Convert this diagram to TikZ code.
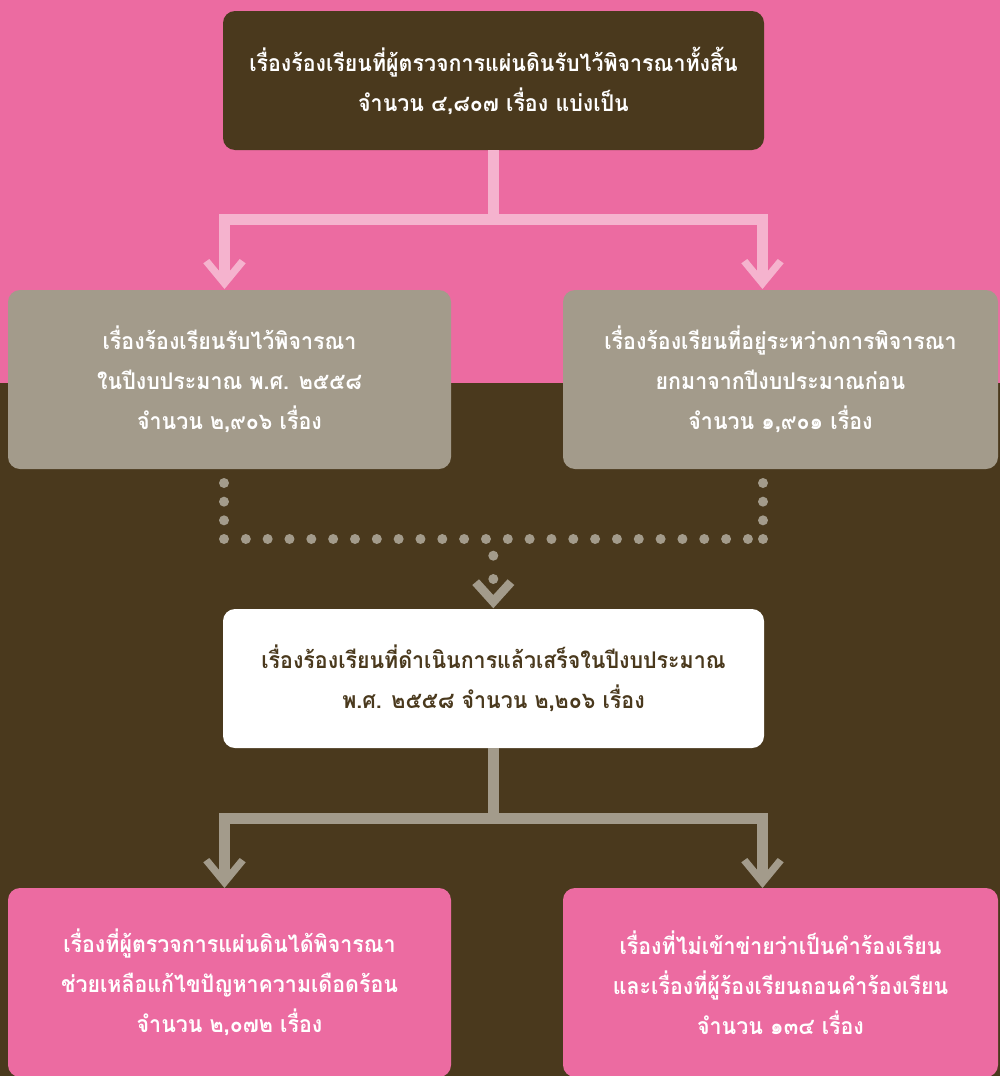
\documentclass[tikz,border=0pt]{standalone}
\usepackage{fontspec}
\newfontfamily\thaifont[Script=Thai,FakeStretch=0.93]{Loma}
\usetikzlibrary{calc}
\definecolor{bgpink}{HTML}{EC6BA1}
\definecolor{darkbrown}{HTML}{4A391D}
\definecolor{boxgray}{HTML}{A39B8B}
\definecolor{linkpink}{HTML}{F5B3CE}
\tikzset{
  box/.style={rectangle, rounded corners=12pt, inner sep=0pt, align=center,
    font=\thaifont\bfseries\fontsize{23}{40}\selectfont},
  pinkline/.style={draw=linkpink, line width=10.7pt},
  grayline/.style={draw=boxgray, line width=10.7pt},
}
\newcommand{\ahead}[2]{\fill[#1] (#2) -- ++(-21.2,-25.7) -- ++(6,-4.3) -- ++(9.85,11.94) -- ++(10.7,0) -- ++(9.85,-11.94) -- ++(6,4.3) -- cycle;}
\begin{document}
\begin{tikzpicture}[x=1pt,y=-1pt]
\useasboundingbox (0,0) rectangle (1000,1076);
\fill[bgpink] (0,0) rectangle (1000,383);
\fill[darkbrown] (0,383) rectangle (1000,1076);

\node[box, fill=darkbrown, text=white, minimum width=541pt, minimum height=139pt] (top) at (493.5,80.5)
  {เรื่องร้องเรียนที่ผู้ตรวจการแผ่นดินรับไว้พิจารณาทั้งสิ้น\\จำนวน ๔,๘๐๗ เรื่อง แบ่งเป็น};
\node[box, fill=boxgray, text=white, minimum width=443pt, minimum height=179pt] (lg) at (229.5,379.5)
  {เรื่องร้องเรียนรับไว้พิจารณา\\ในปีงบประมาณ พ.ศ. ๒๕๕๘\\จำนวน ๒,๙๐๖ เรื่อง};
\node[box, fill=boxgray, text=white, minimum width=435pt, minimum height=179pt] (rg) at (780.5,379.5)
  {เรื่องร้องเรียนที่อยู่ระหว่างการพิจารณา\\ยกมาจากปีงบประมาณก่อน\\จำนวน ๑,๙๐๑ เรื่อง};
\node[box, fill=white, text=darkbrown, minimum width=541pt, minimum height=139pt] (wb) at (493.5,678.5)
  {เรื่องร้องเรียนที่ดำเนินการแล้วเสร็จในปีงบประมาณ\\พ.ศ. ๒๕๕๘ จำนวน ๒,๒๐๖ เรื่อง};
\node[box, fill=bgpink, text=white, minimum width=443pt, minimum height=189pt] (lp) at (229.5,982.5)
  {เรื่องที่ผู้ตรวจการแผ่นดินได้พิจารณา\\ช่วยเหลือแก้ไขปัญหาความเดือดร้อน\\จำนวน ๒,๐๗๒ เรื่อง};
\node[box, fill=bgpink, text=white, minimum width=435pt, minimum height=189pt] (rp) at (780.5,982.5)
  {เรื่องที่ไม่เข้าข่ายว่าเป็นคำร้องเรียน\\และเรื่องที่ผู้ร้องเรียนถอนคำร้องเรียน\\จำนวน ๑๓๔ เรื่อง};

% pink connector
\coordinate (pj) at ($(top.south)+(0,69)$);
\coordinate (t1) at (224.5,289);
\coordinate (t2) at (762.5,289);
\draw[pinkline] (top.south) -- (pj);
\draw[pinkline] ($(t1)+(0,-17)$) |- (pj) -| ($(t2)+(0,-17)$);
\ahead{linkpink}{t1}
\ahead{linkpink}{t2}

% dotted connector
\foreach \yy in {483,501.67,520.33,539} {
  \fill[boxgray] (224,\yy) circle (5pt);
  \fill[boxgray] (763,\yy) circle (5pt);
}
\foreach \k in {1,...,24} {
  \fill[boxgray] (224+\k*21.83,539) circle (5pt);
}
\fill[boxgray] (493.3,555.7) circle (5pt);
\fill[boxgray] (493.3,579) circle (5pt);
\coordinate (t3) at (493.3,608.3);
\fill[boxgray] (t3) -- ++(-21,-23.3) -- ++(6.7,-5.7) -- ++(14.3,15.7) -- ++(14.3,-15.7) -- ++(6.7,5.7) -- cycle;

% gray connector
\coordinate (gj) at ($(wb.south)+(0,70)$);
\coordinate (t4) at (224.5,888);
\coordinate (t5) at (762.5,888);
\draw[grayline] (wb.south) -- (gj);
\draw[grayline] ($(t4)+(0,-17)$) |- (gj) -| ($(t5)+(0,-17)$);
\ahead{boxgray}{t4}
\ahead{boxgray}{t5}
\end{tikzpicture}
\end{document}
